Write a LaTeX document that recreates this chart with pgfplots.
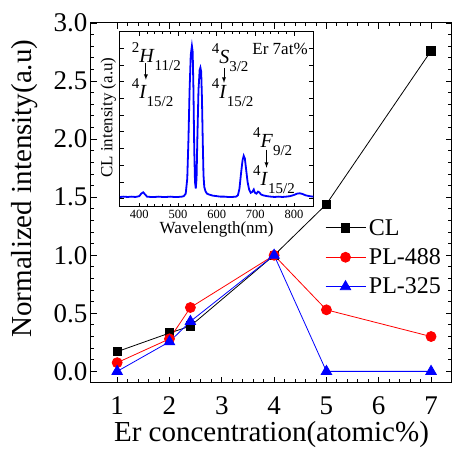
\documentclass[border=0pt]{standalone}
\usepackage{fontspec}
\setmainfont{Liberation Serif}
\usepackage{pgfplots}
\usepackage{pgfplotstable}
\pgfplotsset{compat=1.18}

% concentration series (x = Er at%)
\pgfplotstableread{
x    cl    pla    plb
1    0.17  0.075  0.00
2    0.33  0.28   0.255
2.4  0.39  0.55   0.43
4    1.00  1.00   1.00
5    1.44  0.53   0.00
7    2.76  0.30   0.00
}\conc

% term symbol: ^{sup}Letter_{sub}
\newcommand\lvl[3]{\raisebox{0.5em}{\fontsize{15}{15}\selectfont #1}\textit{#2}\raisebox{-0.4em}{\fontsize{15}{15}\selectfont #3}}

\begin{document}
\begin{tikzpicture}
\useasboundingbox (-91pt,-66pt) rectangle (362pt,383pt);
\begin{axis}[
    at={(0pt,0pt)}, anchor=south west,
    width=361pt, height=360pt, scale only axis,
    xmin=0.5, xmax=7.4, ymin=-0.1, ymax=3.0,
    xtick={1,2,3,4,5,6,7},
    ytick={0,0.5,1,1.5,2,2.5,3},
    minor x tick num=4, minor y tick num=4,
    tick align=inside,
    major tick length=6pt, minor tick length=3.5pt,
    every tick/.style={black, line width=0.9pt},
    axis line style={line width=1pt},
    /pgf/number format/assume math mode=true,
    yticklabel style={/pgf/number format/.cd, fixed, fixed zerofill, precision=1},
    ticklabel style={font=\fontsize{27}{30}\selectfont},
    xticklabel style={yshift=-10pt},
    label style={font=\fontsize{29}{32}\selectfont},
    xlabel={Er concentration(atomic\%)},
    ylabel={Normalized intensity(a.u)},
    x label style={at={(axis description cs:0.5,-0.144)}, anchor=center},
    y label style={at={(axis description cs:-0.183,0.54)}, anchor=center},
    legend style={at={(axis description cs:0.648,0.464)}, anchor=north west,
        draw=none, fill=none, font=\fontsize{24}{29}\selectfont,
        row sep=6pt, inner sep=0pt,
        nodes={inner sep=3pt}},
    legend cell align=left,
    legend image code/.code={%
        \draw[mark repeat=2, mark phase=2] plot coordinates {(0pt,0pt) (20pt,0pt) (40pt,0pt)};},
]
\addplot[black, line width=0.8pt, mark=square*, mark size=4.2pt] table[x=x, y=cl] {\conc};
\addlegendentry{CL}
\addplot[red, line width=0.8pt, mark=*, mark size=5pt] table[x=x, y=pla] {\conc};
\addlegendentry{PL-488}
\addplot[blue, line width=0.8pt, mark=triangle*, mark size=6pt] table[x=x, y=plb] {\conc};
\addlegendentry{PL-325}
\end{axis}

% inset: CL spectrum of Er 7at%
\begin{axis}[
    at={(29pt,176pt)}, anchor=south west,
    width=193.3pt, height=175.3pt, scale only axis,
    axis background/.style={fill=white},
    xmin=350, xmax=850, ymin=-0.5, ymax=10,
    xtick={400,500,600,700,800},
    minor x tick num=4,
    ytick={0,1,...,10}, yticklabels={},
    tick align=inside,
    major tick length=4pt, minor tick length=2.5pt,
    every tick/.style={black, line width=0.8pt},
    axis line style={line width=1pt},
    /pgf/number format/assume math mode=true,
    xticklabel style={font=\fontsize{12.5}{14}\selectfont, /pgf/number format/1000 sep={}},
    label style={font=\fontsize{17}{19}\selectfont},
    xlabel={Wavelength(nm)},
    ylabel={CL intensity (a.u)},
    x label style={at={(axis description cs:0.5,-0.13)}, anchor=center},
    y label style={at={(axis description cs:-0.06,0.51)}, anchor=center},
]
\addplot[blue, line width=1.8pt] coordinates {
(350,0.10)(360,0.12)(370,0.10)(380,0.12)(390,0.10)(400,0.15)(405,0.30)(410,0.38)
(415,0.25)(420,0.12)(430,0.10)(440,0.10)(450,0.12)(460,0.10)(470,0.10)(480,0.12)
(490,0.10)(500,0.10)(510,0.12)(515,0.15)(520,0.30)(524,1.2)(527,3.5)(530,6.5)
(533,8.6)(536,9.15)(538,8.8)(540,6.5)(542,3.0)(544,1.0)(546,0.6)(548,1.2)
(550,3.5)(553,6.5)(556,7.7)(558,7.85)(560,7.6)(562,6.0)(564,3.5)(566,1.4)
(568,0.7)(571,0.45)(575,0.30)(580,0.25)(590,0.18)(600,0.15)(610,0.12)(620,0.12)
(630,0.10)(640,0.10)(650,0.12)(655,0.20)(659,0.6)(663,1.5)(667,2.3)(670,2.57)
(673,2.4)(676,1.8)(680,1.0)(684,0.55)(688,0.35)(692,0.40)(696,0.55)(699,0.35)
(703,0.30)(707,0.42)(710,0.38)(715,0.25)(720,0.20)(730,0.15)(740,0.12)(750,0.10)
(760,0.12)(770,0.10)(780,0.12)(790,0.15)(800,0.22)(808,0.30)(815,0.32)(822,0.28)
(830,0.20)(840,0.15)(850,0.12)
};
\begin{scope}[every node/.style={font=\fontsize{20}{22}\selectfont, inner sep=0pt}]
\node[anchor=west] at (axis cs:380,8.5) {\lvl{2}{H}{11/2}};
\node[anchor=west] at (axis cs:380,6.35) {\lvl{4}{I}{15/2}};
\node[anchor=west] at (axis cs:587,8.45) {\lvl{4}{S}{3/2}};
\node[anchor=west] at (axis cs:587,6.35) {\lvl{4}{I}{15/2}};
\node[anchor=east, font=\fontsize{17}{19}\selectfont] at (axis cs:836,8.98) {Er 7at\%};
\node[anchor=west] at (axis cs:694,3.4) {\lvl{4}{F}{9/2}};
\node[anchor=west] at (axis cs:694,1.15) {\lvl{4}{I}{15/2}};
\end{scope}
\draw[-latex, line width=0.9pt] (axis cs:417,8.13) -- (axis cs:417,7.12);
\draw[-latex, line width=0.9pt] (axis cs:619,7.84) -- (axis cs:619,6.94);
\draw[-latex, line width=0.9pt] (axis cs:729,2.93) -- (axis cs:729,1.85);
\end{axis}
\end{tikzpicture}
\end{document}
